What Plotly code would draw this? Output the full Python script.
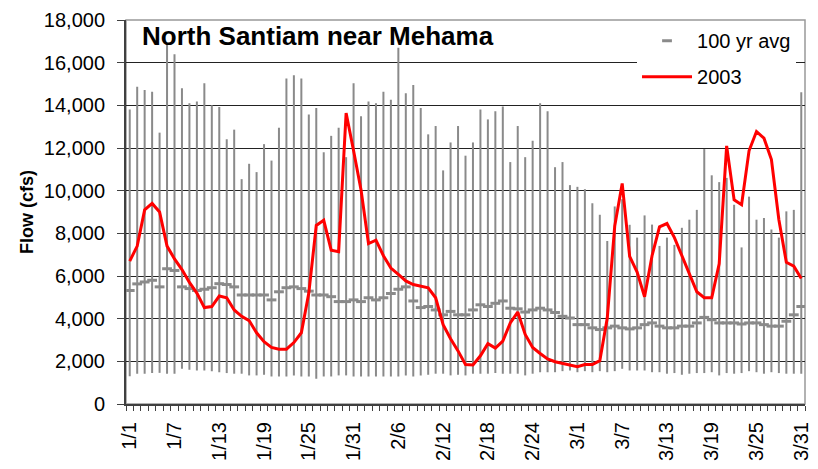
import plotly.graph_objects as go

# ---- data ----
dates = [
    "1/1", "1/2", "1/3", "1/4", "1/5", "1/6", "1/7", "1/8", "1/9", "1/10",
    "1/11", "1/12", "1/13", "1/14", "1/15", "1/16", "1/17", "1/18", "1/19", "1/20",
    "1/21", "1/22", "1/23", "1/24", "1/25", "1/26", "1/27", "1/28", "1/29", "1/30",
    "1/31", "2/1", "2/2", "2/3", "2/4", "2/5", "2/6", "2/7", "2/8", "2/9",
    "2/10", "2/11", "2/12", "2/13", "2/14", "2/15", "2/16", "2/17", "2/18", "2/19",
    "2/20", "2/21", "2/22", "2/23", "2/24", "2/25", "2/26", "2/27", "2/28", "2/29",
    "3/1", "3/2", "3/3", "3/4", "3/5", "3/6", "3/7", "3/8", "3/9", "3/10",
    "3/11", "3/12", "3/13", "3/14", "3/15", "3/16", "3/17", "3/18", "3/19", "3/20",
    "3/21", "3/22", "3/23", "3/24", "3/25", "3/26", "3/27", "3/28", "3/29", "3/30",
    "3/31",
]

tick_labels = ["1/1", "1/7", "1/13", "1/19", "1/25", "1/31", "2/6", "2/12",
               "2/18", "2/24", "3/1", "3/7", "3/13", "3/19", "3/25", "3/31"]

hist_max = [
    13800, 14870, 14720, 14640, 12720, 16900, 16400, 14800, 14100, 14180,
    15030, 14000, 13920, 12410, 12860, 10540, 11260, 10870, 12180, 11410,
    12950, 15260, 15410, 15260, 13570, 13870, 11800, 12570, 12950, 11570,
    15030, 13490, 14180, 14100, 14640, 14260, 16700, 14570, 14950, 13870,
    12640, 13030, 10950, 12260, 13030, 11640, 12260, 13800, 13340, 13720,
    13950, 11340, 13030, 11570, 12340, 14100, 13720, 11100, 11340, 10260,
    10180, 10070, 9410, 8870, 7640, 9260, 9600, 8400, 7800, 8840,
    8410, 7410, 7800, 7460, 8260, 8640, 9100, 11950, 10720, 10400,
    10600, 9340, 7340, 9720, 8640, 8720, 8180, 7800, 9030, 9100,
    14610,
]

hist_min = [
    1300, 1420, 1420, 1450, 1460, 1420, 1420, 1650, 1600, 1570,
    1570, 1540, 1490, 1450, 1420, 1420, 1340, 1340, 1370, 1290,
    1290, 1290, 1340, 1290, 1290, 1180, 1290, 1290, 1340, 1340,
    1290, 1290, 1290, 1290, 1290, 1290, 1290, 1340, 1290, 1340,
    1370, 1420, 1420, 1340, 1370, 1340, 1420, 1420, 1420, 1450,
    1420, 1420, 1420, 1340, 1420, 1490, 1490, 1490, 1540, 1570,
    1490, 1540, 1490, 1540, 1490, 1540, 1650, 1570, 1570, 1570,
    1490, 1490, 1420, 1450, 1370, 1420, 1450, 1450, 1490, 1340,
    1450, 1420, 1450, 1540, 1490, 1420, 1490, 1450, 1420, 1420,
    1420,
]

avg_100yr = [
    5320, 5630, 5720, 5800, 5490, 6340, 6260, 5490, 5410, 5320,
    5380, 5450, 5640, 5600, 5490, 5110, 5110, 5110, 5110, 4880,
    5260, 5450, 5490, 5410, 5290, 5110, 5110, 5030, 4800, 4800,
    4880, 4800, 4980, 4880, 4980, 5180, 5380, 5490, 4830, 4520,
    4570, 4410, 4180, 4340, 4180, 4180, 4410, 4650, 4570, 4720,
    4830, 4490, 4460, 4310, 4410, 4490, 4410, 4290, 4110, 4030,
    3720, 3720, 3570, 3490, 3570, 3650, 3570, 3520, 3570, 3720,
    3800, 3650, 3570, 3570, 3650, 3650, 3800, 4060, 3950, 3800,
    3800, 3800, 3750, 3800, 3800, 3720, 3650, 3650, 3880, 4180,
    4570,
]

flow_2003 = [
    6700, 7400, 9100, 9400, 9000, 7400, 6800, 6300, 5700, 5200,
    4520, 4570, 5060, 4980, 4410, 4110, 3910, 3340, 2920, 2650,
    2570, 2570, 2880, 3340, 5200, 8370, 8610, 7210, 7140, 13640,
    11870, 10030, 7520, 7680, 6950, 6370, 6080, 5770, 5600, 5540,
    5450, 4980, 3720, 3060, 2490, 1850, 1830, 2260, 2830, 2620,
    2950, 3800, 4310, 3260, 2650, 2370, 2110, 1980, 1910, 1830,
    1750, 1850, 1850, 2030, 4030, 8340, 10340, 6920, 6180, 5030,
    6950, 8300, 8460, 7800, 6950, 6060, 5260, 4980, 4980, 6570,
    12100, 9570, 9340, 11870, 12770, 12460, 11460, 8640, 6640, 6460,
    5880,
]

# ---- build ----
FONT = "Liberation Sans, Arial, sans-serif"
GRAY = "#8a8a8a"
idx = list(range(len(dates)))

rx, ry = [], []
for i, lo, hi in zip(idx, hist_min, hist_max):
    rx += [i, i, None]
    ry += [lo, hi, None]

tickvals = [dates.index(t) for t in tick_labels]

fig = go.Figure()
fig.add_trace(go.Scatter(x=rx, y=ry, mode="lines", line=dict(color=GRAY, width=2),
                         showlegend=False, hoverinfo="skip"))
fig.add_trace(go.Scatter(x=idx, y=avg_100yr, mode="markers", name="100 yr avg",
                         legendgroup="a",
                         marker=dict(symbol="line-ew", size=7,
                                     line=dict(color=GRAY, width=3))))
fig.add_trace(go.Scatter(x=idx, y=flow_2003, mode="lines", name="2003",
                         legendgroup="b",
                         line=dict(color="#ff0000", width=3)))

# page body keeps an 8px default margin, so the figure is 8px smaller and offset
fig.update_layout(
    width=810, height=461, autosize=False,
    margin=dict(l=118, r=13, t=12, b=65),
    paper_bgcolor="white", plot_bgcolor="white",
    font=dict(family=FONT, size=20, color="black"),
    showlegend=True,
    legend=dict(x=0.7526, y=0.997, xanchor="left", yanchor="top",
                bgcolor="white", borderwidth=0, font=dict(size=20, family=FONT),
                traceorder="grouped", tracegroupgap=7, itemwidth=50),
    annotations=[dict(text="<b>North Santiam near Mehama</b>", xref="paper", yref="paper",
                      x=0.0206, y=0.958, xanchor="left", yanchor="middle",
                      showarrow=False, font=dict(size=26, family=FONT, color="black"))],
    shapes=[dict(type="rect", xref="paper", yref="paper", x0=0, x1=1, y0=0, y1=1,
                 line=dict(color="#999999", width=1.5), layer="below")],
)

fig.update_xaxes(range=[-0.5, len(dates) - 0.5], tickmode="array", tickvals=tickvals,
                 ticktext=tick_labels, tickangle=-90, ticks="", showgrid=False,
                 zeroline=False, showline=True, linecolor="#404040", linewidth=2,
                 tickfont=dict(size=20, family=FONT), ticklabelstandoff=8,
                 automargin=False,
                 minor=dict(ticks="outside", ticklen=5, tickwidth=1, tickcolor="#404040",
                            tick0=0.5, dtick=1, showgrid=False))

fig.update_yaxes(range=[0, 18000], dtick=2000, tickformat=",d", ticks="outside",
                 ticklen=7, tickcolor="#404040", showline=True, linecolor="#404040",
                 linewidth=2, showgrid=True, gridcolor="#222222", gridwidth=1,
                 zeroline=False, tickfont=dict(size=20, family=FONT),
                 ticklabelstandoff=8, automargin=False, ticklabeloverflow="allow",
                 title=dict(text="<b>Flow (cfs)</b>", font=dict(size=18, family=FONT),
                            standoff=6))

fig.write_html("out.html")
